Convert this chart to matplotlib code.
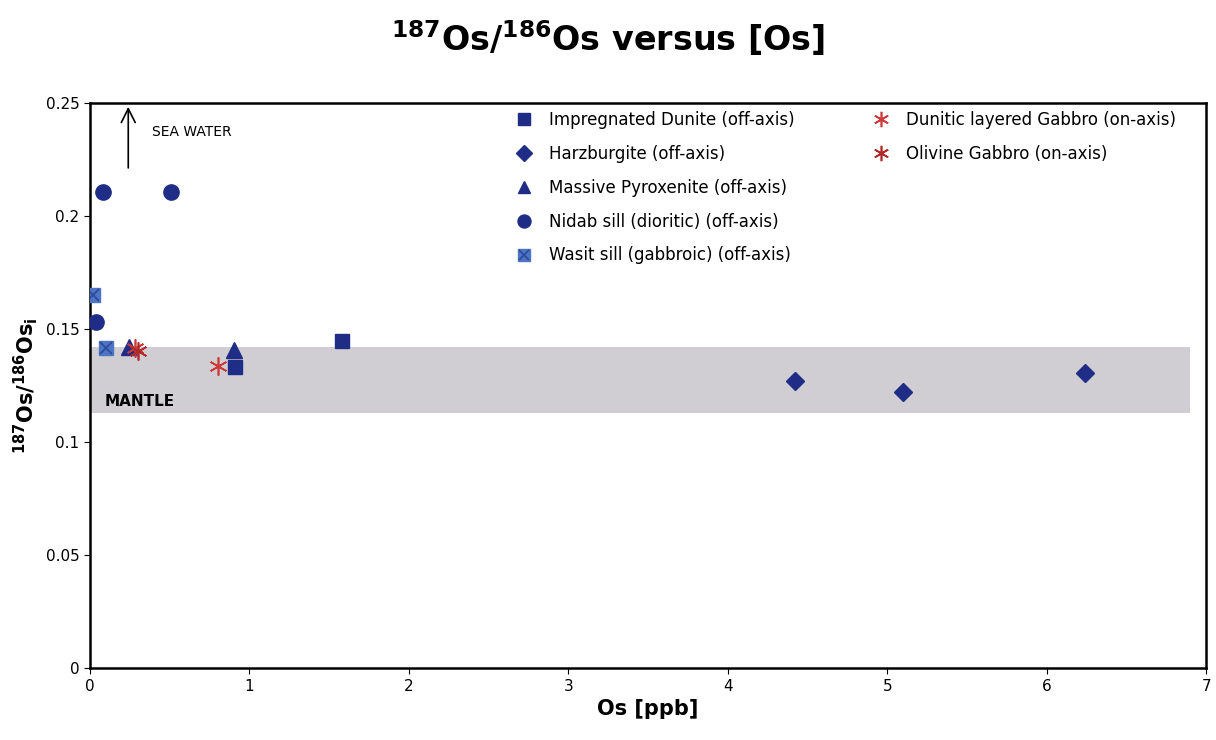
import matplotlib
matplotlib.use('Agg')
import matplotlib.pyplot as plt
from matplotlib.legend_handler import HandlerTuple

# data
dunite_x = [0.91, 1.58]
dunite_y = [0.133, 0.1447]
harz_x = [4.42, 5.10, 6.24]
harz_y = [0.127, 0.122, 0.1305]
pyrox_x = [0.245, 0.90]
pyrox_y = [0.142, 0.1407]
nidab_x = [0.08, 0.51, 0.04]
nidab_y = [0.2106, 0.2106, 0.153]
wasit_x = [0.02, 0.10]
wasit_y = [0.165, 0.1416]
dlg_x = [0.28, 0.80]
dlg_y = [0.1415, 0.1336]
olg_x = [0.30]
olg_y = [0.1403]
mantle_lo, mantle_hi, mantle_xmax = 0.1128, 0.142, 6.9

NAVY = '#1f2d86'
LBLUE = '#4f74c4'
RED = '#cc3a3a'

plt.rcParams['font.family'] = ['DejaVu Sans']
fig = plt.figure(figsize=(12.16, 7.4), dpi=100)
ax = fig.add_axes([0.074, 0.097, 0.918, 0.764])

ax.fill_between([0, mantle_xmax], mantle_lo, mantle_hi, color='#d0ced3', lw=0, zorder=1)

h1, = ax.plot(dunite_x, dunite_y, 's', color=NAVY, ms=10, ls='none', zorder=3)
h2, = ax.plot(harz_x, harz_y, 'D', color=NAVY, ms=9, ls='none', zorder=3)
h3, = ax.plot(pyrox_x, pyrox_y, '^', color=NAVY, ms=11, ls='none', zorder=3)
h4, = ax.plot(nidab_x, nidab_y, 'o', color=NAVY, ms=11, ls='none', zorder=3)
h5a, = ax.plot(wasit_x, wasit_y, 's', color=LBLUE, ms=10, ls='none', zorder=3)
h5b, = ax.plot(wasit_x, wasit_y, 'x', color='#2c4c9e', ms=9, mew=1.3, ls='none', zorder=4)
h6, = ax.plot(dlg_x, dlg_y, marker=(6, 2, 0), color=RED, ms=13, mew=1.2, ls='none', zorder=5)
h7, = ax.plot(olg_x, olg_y, marker=(6, 2, 0), color='#b02a2a', ms=13, mew=1.2, ls='none', zorder=5)

ax.annotate('', xy=(0.24, 0.2495), xytext=(0.24, 0.220),
            arrowprops=dict(arrowstyle='->', color='black', lw=1.2, mutation_scale=25))
ax.text(0.39, 0.237, 'SEA WATER', fontsize=10, va='center')
ax.text(0.09, 0.118, 'MANTLE', fontsize=11, fontweight='bold', va='center')

ax.set_xlim(0, 7)
ax.set_ylim(0, 0.25)
ax.set_xticks(range(8))
ax.set_yticks([0, 0.05, 0.1, 0.15, 0.2, 0.25])
ax.set_yticklabels(['0', '0.05', '0.1', '0.15', '0.2', '0.25'])
ax.tick_params(labelsize=11, length=4, direction='out')
for s in ax.spines.values():
    s.set_linewidth(1.8)

ax.set_xlabel('Os [ppb]', fontsize=15, fontweight='bold')
ax.set_ylabel(r'$\mathbf{^{187}Os/^{186}Os_i}$', fontsize=15)
fig.suptitle(r'$\mathbf{^{187}Os/^{186}Os}$ versus [Os]', fontsize=24, fontweight='bold', y=0.976)

leg1 = ax.legend([h1, h2, h3, h4, (h5a, h5b)],
                 ['Impregnated Dunite (off-axis)', 'Harzburgite (off-axis)',
                  'Massive Pyroxenite (off-axis)', 'Nidab sill (dioritic) (off-axis)',
                  'Wasit sill (gabbroic) (off-axis)'],
                 handler_map={tuple: HandlerTuple(ndivide=1, pad=0)},
                 loc='upper left', bbox_to_anchor=(0.36, 1.012), frameon=False,
                 fontsize=12, labelspacing=0.95, handletextpad=0.5, markerscale=0.85)
ax.add_artist(leg1)
ax.legend([h6, h7], ['Dunitic layered Gabbro (on-axis)', 'Olivine Gabbro (on-axis)'],
          loc='upper left', bbox_to_anchor=(0.68, 1.012), frameon=False,
          fontsize=12, labelspacing=0.95, handletextpad=0.5, markerscale=0.85)

fig.savefig('out.png', dpi=100)
